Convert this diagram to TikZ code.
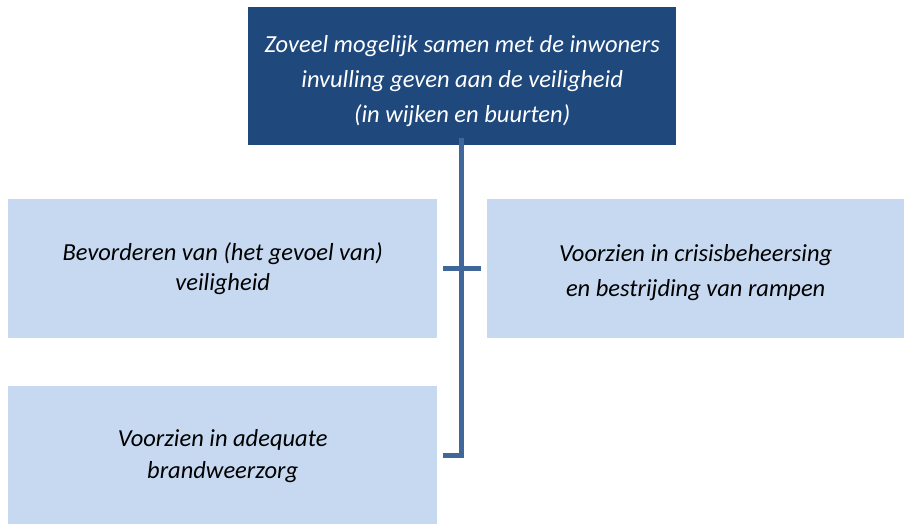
\documentclass[tikz,border=0pt]{standalone}
\usepackage{fontspec}
\setmainfont{Carlito}
\usetikzlibrary{calc}
\definecolor{darkbox}{RGB}{31,73,125}
\definecolor{lightbox}{RGB}{198,217,241}
\definecolor{connblue}{RGB}{63,103,153}
\begin{document}
\begin{tikzpicture}[x=1pt,y=-1pt,
  boxbase/.style={rectangle, inner sep=0pt, anchor=north west, align=center,
    font=\fontsize{24.5}{31}\selectfont\itshape},
  topbox/.style={boxbase, fill=darkbox, text=white, minimum width=428pt, minimum height=138pt,
    font=\fontsize{24.5}{35}\selectfont\itshape},
  subbox/.style={boxbase, fill=lightbox, text=black, minimum height=139pt},
  conn/.style={draw=connblue, line width=5pt}]
\useasboundingbox (0,0) rectangle (904,523);
\begin{scope}
\clip (0,0) rectangle (904,523);
\node[topbox] (top) at (248,7) {\rule{0pt}{26pt}Zoveel mogelijk samen met de inwoners\\invulling geven aan de veiligheid\\(in wijken en buurten)};
\node[subbox, minimum width=429pt, font=\fontsize{24.5}{30}\selectfont\itshape] (b1) at (8,199) {Bevorderen van (het gevoel van)\\veiligheid};
\node[subbox, minimum width=417pt, font=\fontsize{24.5}{35}\selectfont\itshape] (b2) at (487,199) {\rule{0pt}{24pt}Voorzien in crisisbeheersing\\en bestrijding van rampen};
\node[subbox, minimum width=429pt, font=\fontsize{24.5}{32}\selectfont\itshape] (b3) at (8,386) {Voorzien in adequate\\brandweerzorg};
\coordinate (vtop) at ($(top.south)+(-1,-7)$);
\coordinate (hl) at ($(b1.east)+(6,0)$);
\coordinate (hr) at ($(b2.west)+(-6,0)$);
\coordinate (bl) at ($(b3.east)+(6,0)$);
\draw[conn] (vtop) -- (vtop |- bl) -- (bl);
\draw[conn] (hl) -- (hr);
\end{scope}
\end{tikzpicture}
\end{document}
